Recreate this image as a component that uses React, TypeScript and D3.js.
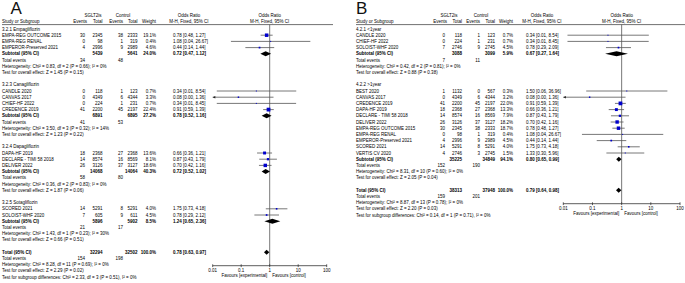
import React from "react";
import * as d3 from "d3";

// ---------------- Panel A data ----------------
const A_GROUP_NAMES = ["3.2.1 Empagliflozin", "3.2.3 Canagliflozin", "3.2.4 Dapagliflozin", "3.2.5 Sotagliflozin"];
const A_GROUP_OF = [0, 0, 0, 1, 1, 1, 1, 2, 2, 2, 3, 3];
const A_STUDY = ["EMPA-REG OUTCOME 2015", "EMPA-REG RENAL", "EMPEROR-Preserved 2021", "CANDLE 2020", "CANVAS 2017", "CHIEF-HF 2022", "CREDENCE 2019", "DAPA-HF 2019", "DECLARE - TIMI 58 2018", "DELIVER 2022", "SCORED 2021", "SOLOIST-WHF 2020"];
const A_EV1 = [30, 0, 4, 0, 0, 0, 41, 18, 14, 26, 14, 7];
const A_N1 = [2345, 98, 2996, 118, 4349, 224, 2200, 2368, 8574, 3126, 5291, 605];
const A_EV2 = [38, 1, 9, 1, 6, 1, 45, 27, 16, 37, 8, 9];
const A_N2 = [2333, 319, 2989, 123, 4344, 231, 2197, 2368, 8569, 3127, 5291, 611];
const A_WEIGHT = [19.1, 0.4, 4.6, 0.7, 3.3, 0.7, 22.4, 13.6, 8.1, 18.6, 4.0, 4.5];
const A_OR = [0.78, 1.08, 0.44, 0.34, 0.08, 0.34, 0.91, 0.66, 0.87, 0.70, 1.75, 0.78];
const A_LO = [0.48, 0.0436, 0.14, 0.0139, 0.0043, 0.0139, 0.59, 0.36, 0.43, 0.42, 0.73, 0.29];
const A_HI = [1.27, 26.67, 1.44, 8.54, 1.36, 8.45, 1.39, 1.21, 1.79, 1.16, 4.18, 2.12];
const A_SUB_N1 = [5439, 6891, 14068, 5896];
const A_SUB_N2 = [5641, 6895, 14064, 5902];
const A_SUB_EV1 = [34, 41, 58, 21];
const A_SUB_EV2 = [48, 53, 80, 17];
const A_SUB_WEIGHT = [24.0, 27.2, 40.3, 8.5];
const A_SUB_OR = [0.72, 0.78, 0.72, 1.24];
const A_SUB_LO = [0.47, 0.52, 0.52, 0.65];
const A_SUB_HI = [1.12, 1.16, 1.02, 2.36];
const A_SUB_HET = [
  "Chi² = 0.83, df = 2 (P = 0.66); I² = 0%",
  "Chi² = 3.50, df = 3 (P = 0.32); I² = 14%",
  "Chi² = 0.36, df = 2 (P = 0.83); I² = 0%",
  "Chi² = 1.43, df = 1 (P = 0.23); I² = 30%",
];
const A_SUB_Z = ["Z = 1.45 (P = 0.15)", "Z = 1.23 (P = 0.22)", "Z = 1.87 (P = 0.06)", "Z = 0.66 (P = 0.51)"];
const A_TOT_N = [32294, 32502];
const A_TOT_EV = [154, 198];
const A_TOT_CI = [0.78, 0.63, 0.97];
const A_TOT_HET = "Chi² = 8.28, df = 11 (P = 0.69); I² = 0%";
const A_TOT_Z = "Z = 2.29 (P = 0.02)";
const A_TOT_SUBDIFF = "Chi² = 2.33, df = 3 (P = 0.51), I² = 0%";

// ---------------- Panel B data ----------------
const B_GROUP_NAMES = ["4.2.1 <1year", "4.2.2 >1year"];
const B_GROUP_OF = [0, 0, 0, 1, 1, 1, 1, 1, 1, 1, 1, 1, 1, 1];
const B_STUDY = ["CANDLE 2020", "CHIEF-HF 2022", "SOLOIST-WHF 2020", "BEST 2020", "CANVAS 2017", "CREDENCE 2019", "DAPA-HF 2019", "DECLARE - TIMI 58 2018", "DELIVER 2022", "EMPA-REG OUTCOME 2015", "EMPA-REG RENAL", "EMPEROR-Preserved 2021", "SCORED 2021", "VERTIS CV 2020"];
const B_EV1 = [0, 0, 7, 1, 0, 41, 18, 14, 26, 30, 0, 4, 14, 4];
const B_N1 = [118, 224, 2746, 1132, 4349, 2200, 2368, 8574, 3126, 2345, 98, 2996, 5291, 2746];
const B_EV2 = [1, 1, 9, 0, 6, 45, 27, 16, 37, 38, 1, 9, 8, 3];
const B_N2 = [123, 231, 2745, 567, 4344, 2197, 2368, 8569, 3127, 2333, 319, 2989, 5291, 2745];
const B_WEIGHT = [0.7, 0.7, 4.5, 0.3, 3.2, 22.0, 13.3, 7.9, 18.2, 18.7, 0.4, 4.5, 4.0, 1.5];
const B_OR = [0.34, 0.34, 0.78, 1.50, 0.08, 0.91, 0.66, 0.87, 0.70, 0.78, 1.08, 0.44, 1.75, 1.33];
const B_LO = [0.0139, 0.0139, 0.29, 0.061, 0.0043, 0.59, 0.36, 0.43, 0.42, 0.48, 0.0436, 0.14, 0.73, 0.30];
const B_HI = [8.54, 8.45, 2.09, 36.96, 1.36, 1.39, 1.21, 1.79, 1.16, 1.27, 26.67, 1.44, 4.18, 5.96];
const B_SUB_N1 = [3088, 35225];
const B_SUB_N2 = [3099, 34849];
const B_SUB_EV1 = [7, 152];
const B_SUB_EV2 = [11, 190];
const B_SUB_WEIGHT = [5.9, 94.1];
const B_SUB_OR = [0.67, 0.80];
const B_SUB_LO = [0.27, 0.65];
const B_SUB_HI = [1.64, 0.99];
const B_SUB_HET = ["Chi² = 0.42, df = 2 (P = 0.81); I² = 0%", "Chi² = 8.31, df = 10 (P = 0.60); I² = 0%"];
const B_SUB_Z = ["Z = 0.88 (P = 0.38)", "Z = 2.05 (P = 0.04)"];
const B_TOT_N = [38313, 37948];
const B_TOT_EV = [159, 201];
const B_TOT_CI = [0.79, 0.64, 0.98];
const B_TOT_HET = "Chi² = 8.87, df = 13 (P = 0.78); I² = 0%";
const B_TOT_Z = "Z = 2.20 (P = 0.03)";
const B_TOT_SUBDIFF = "Chi² = 0.14, df = 1 (P = 0.71), I² = 0%";

const AXIS_TICKS = [0.01, 0.1, 1, 10, 100];

const PANEL_A = {
  letter: "A", groups: A_GROUP_NAMES, groupOf: A_GROUP_OF, study: A_STUDY,
  ev1: A_EV1, n1: A_N1, ev2: A_EV2, n2: A_N2, w: A_WEIGHT, or: A_OR, lo: A_LO, hi: A_HI,
  sN1: A_SUB_N1, sN2: A_SUB_N2, sEv1: A_SUB_EV1, sEv2: A_SUB_EV2, sW: A_SUB_WEIGHT,
  sOr: A_SUB_OR, sLo: A_SUB_LO, sHi: A_SUB_HI, sHet: A_SUB_HET, sZ: A_SUB_Z,
  tN: A_TOT_N, tEv: A_TOT_EV, tCi: A_TOT_CI, tHet: A_TOT_HET, tZ: A_TOT_Z, tSub: A_TOT_SUBDIFF,
};
const PANEL_B = {
  letter: "B", groups: B_GROUP_NAMES, groupOf: B_GROUP_OF, study: B_STUDY,
  ev1: B_EV1, n1: B_N1, ev2: B_EV2, n2: B_N2, w: B_WEIGHT, or: B_OR, lo: B_LO, hi: B_HI,
  sN1: B_SUB_N1, sN2: B_SUB_N2, sEv1: B_SUB_EV1, sEv2: B_SUB_EV2, sW: B_SUB_WEIGHT,
  sOr: B_SUB_OR, sLo: B_SUB_LO, sHi: B_SUB_HI, sHet: B_SUB_HET, sZ: B_SUB_Z,
  tN: B_TOT_N, tEv: B_TOT_EV, tCi: B_TOT_CI, tHet: B_TOT_HET, tZ: B_TOT_Z, tSub: B_TOT_SUBDIFF,
};

// layout (positions only)
const LAYOUT_A = {
  letterX: 10.5, nameX: 2, ev1: 85, n1: 102.5, ev2: 123, n2: 137.5, wt: 156, orX: 173,
  plotL: 212.7, plotR: 326.7, lineL: 2, lineR: 333, sgltC: 93, ctrlC: 123, orHeadC: 189, evPad: 2,
};
const LAYOUT_B = {
  letterX: 356, nameX: 356, ev1: 445, n1: 462, ev2: 480, n2: 495, wt: 513, orX: 526,
  plotL: 563.3, plotR: 680, lineL: 356, lineR: 685, sgltC: 449, ctrlC: 481, orHeadC: 542, evPad: 2,
};

const FONT = "'Liberation Sans', Arial, Helvetica, sans-serif";
const FS = 4.5;
const fmt2 = d3.format(".2f");
const fmtW = (v: number) => d3.format(".1f")(v) + "%";
const ciText = (o: number, l: number, h: number) => `${fmt2(o)} [${fmt2(l)}, ${fmt2(h)}]`;

type Row = { type: string; i?: number };

function buildRows(d: any): Row[] {
  const rows: Row[] = [];
  d.groups.forEach((_: string, g: number) => {
    rows.push({ type: "head", i: g });
    d.study.forEach((_s: string, k: number) => {
      if (d.groupOf[k] === g) rows.push({ type: "study", i: k });
    });
    rows.push({ type: "sub", i: g });
    rows.push({ type: "sev", i: g });
    rows.push({ type: "shet", i: g });
    rows.push({ type: "sz", i: g });
    rows.push({ type: "blank" });
  });
  rows.push({ type: "total" });
  rows.push({ type: "tev" });
  rows.push({ type: "thet" });
  rows.push({ type: "tz" });
  rows.push({ type: "tsub" });
  return rows;
}

function Panel({ d, L }: { d: any; L: any }) {
  const x = d3.scaleLog().domain([0.01, 100]).range([L.plotL, L.plotR]).clamp(true);
  const y = d3.scaleLinear().domain([0, 1]).range([29, 35.2]);
  const rows = buildRows(d);
  const totalIdx = rows.findIndex((r) => r.type === "total");
  const axisY = y(totalIdx) + 13.5;
  const x1 = x(1);
  const headY1 = 17.2;
  const headY2 = 23.2;
  const lineY = 24.6;

  const T = (props: any) => (
    <text fontFamily={FONT} fontSize={FS} fill="#000" {...props} />
  );

  const diamond = (o: number, l: number, h: number, cy: number) => {
    const hh = 2.5;
    return (
      <polygon
        points={`${x(l)},${cy} ${x(o)},${cy - hh} ${x(h)},${cy} ${x(o)},${cy + hh}`}
        fill="#000"
      />
    );
  };

  const els: any[] = [];
  rows.forEach((r, idx) => {
    const cy = y(idx);
    const by = cy + 1.6;
    const key = `r${idx}`;
    if (r.type === "head") {
      els.push(<T key={key} x={L.nameX} y={by}>{d.groups[r.i!]}</T>);
    } else if (r.type === "study") {
      const k = r.i!;
      const side = Math.max(1.0, Math.sqrt(d.w[k]) * 0.8);
      const xl = x(d.lo[k]);
      const xh = x(d.hi[k]);
      els.push(
        <g key={key}>
          <T x={L.nameX} y={by}>{d.study[k]}</T>
          <T x={L.ev1} y={by} textAnchor="end">{d.ev1[k]}</T>
          <T x={L.n1} y={by} textAnchor="end">{d.n1[k]}</T>
          <T x={L.ev2} y={by} textAnchor="end">{d.ev2[k]}</T>
          <T x={L.n2} y={by} textAnchor="end">{d.n2[k]}</T>
          <T x={L.wt} y={by} textAnchor="end">{fmtW(d.w[k])}</T>
          <T x={L.orX} y={by}>{ciText(d.or[k], d.lo[k], d.hi[k])}</T>
          <line x1={xl} x2={xh} y1={cy} y2={cy} stroke="#555" strokeWidth={0.8} />
          {d.lo[k] < 0.01 && (
            <polygon points={`${xl},${cy} ${xl + 2.6},${cy - 1.3} ${xl + 2.6},${cy + 1.3}`} fill="#222" />
          )}
          {d.hi[k] > 100 && (
            <polygon points={`${xh},${cy} ${xh - 2.6},${cy - 1.3} ${xh - 2.6},${cy + 1.3}`} fill="#222" />
          )}
          <rect x={x(d.or[k]) - side / 2} y={cy - side / 2} width={side} height={side} fill="#0000cc" />
        </g>
      );
    } else if (r.type === "sub") {
      const g = r.i!;
      els.push(
        <g key={key}>
          <T x={L.nameX} y={by} fontWeight="bold">Subtotal (95% CI)</T>
          <T x={L.n1} y={by} textAnchor="end" fontWeight="bold">{d.sN1[g]}</T>
          <T x={L.n2} y={by} textAnchor="end" fontWeight="bold">{d.sN2[g]}</T>
          <T x={L.wt} y={by} textAnchor="end" fontWeight="bold">{fmtW(d.sW[g])}</T>
          <T x={L.orX} y={by} fontWeight="bold">{ciText(d.sOr[g], d.sLo[g], d.sHi[g])}</T>
          {diamond(d.sOr[g], d.sLo[g], d.sHi[g], cy)}
        </g>
      );
    } else if (r.type === "sev") {
      const g = r.i!;
      els.push(
        <g key={key}>
          <T x={L.nameX} y={by}>Total events</T>
          <T x={L.ev1} y={by} textAnchor="end">{d.sEv1[g]}</T>
          <T x={L.ev2} y={by} textAnchor="end">{d.sEv2[g]}</T>
        </g>
      );
    } else if (r.type === "shet") {
      els.push(<T key={key} x={L.nameX} y={by}>{"Heterogeneity: " + d.sHet[r.i!]}</T>);
    } else if (r.type === "sz") {
      els.push(<T key={key} x={L.nameX} y={by}>{"Test for overall effect: " + d.sZ[r.i!]}</T>);
    } else if (r.type === "total") {
      els.push(
        <g key={key}>
          <T x={L.nameX} y={by} fontWeight="bold">Total (95% CI)</T>
          <T x={L.n1} y={by} textAnchor="end" fontWeight="bold">{d.tN[0]}</T>
          <T x={L.n2} y={by} textAnchor="end" fontWeight="bold">{d.tN[1]}</T>
          <T x={L.wt} y={by} textAnchor="end" fontWeight="bold">{fmtW(100)}</T>
          <T x={L.orX} y={by} fontWeight="bold">{ciText(d.tCi[0], d.tCi[1], d.tCi[2])}</T>
          {diamond(d.tCi[0], d.tCi[1], d.tCi[2], cy)}
        </g>
      );
    } else if (r.type === "tev") {
      els.push(
        <g key={key}>
          <T x={L.nameX} y={by}>Total events</T>
          <T x={L.ev1} y={by} textAnchor="end">{d.tEv[0]}</T>
          <T x={L.ev2} y={by} textAnchor="end">{d.tEv[1]}</T>
        </g>
      );
    } else if (r.type === "thet") {
      els.push(<T key={key} x={L.nameX} y={by}>{"Heterogeneity: " + d.tHet}</T>);
    } else if (r.type === "tz") {
      els.push(<T key={key} x={L.nameX} y={by}>{"Test for overall effect: " + d.tZ}</T>);
    } else if (r.type === "tsub") {
      els.push(<T key={key} x={L.nameX} y={by}>{"Test for subgroup differences: " + d.tSub}</T>);
    }
  });

  return (
    <g>
      <text x={L.letterX} y={14} fontFamily={FONT} fontSize={17} fill="#111">{d.letter}</text>
      <T x={L.sgltC} y={headY1} textAnchor="middle">SGLT2is</T>
      <T x={L.ctrlC} y={headY1} textAnchor="middle">Control</T>
      <T x={L.orHeadC} y={headY1} textAnchor="middle">Odds Ratio</T>
      <T x={x1} y={headY1} textAnchor="middle">Odds Ratio</T>
      <T x={L.nameX} y={headY2}>Study or Subgroup</T>
      <T x={L.ev1 + L.evPad} y={headY2} textAnchor="end">Events</T>
      <T x={L.n1} y={headY2} textAnchor="end">Total</T>
      <T x={L.ev2} y={headY2} textAnchor="end">Events</T>
      <T x={L.n2} y={headY2} textAnchor="end">Total</T>
      <T x={L.wt} y={headY2} textAnchor="end">Weight</T>
      <T x={L.orHeadC} y={headY2} textAnchor="middle">M-H, Fixed, 95% CI</T>
      <T x={x1} y={headY2} textAnchor="middle">M-H, Fixed, 95% CI</T>
      <line x1={L.lineL} x2={L.lineR} y1={lineY} y2={lineY} stroke="#333" strokeWidth={0.7} />
      <line x1={x1} x2={x1} y1={lineY} y2={axisY} stroke="#555" strokeWidth={0.8} />
      {els}
      <line x1={L.plotL} x2={L.plotR} y1={axisY} y2={axisY} stroke="#333" strokeWidth={0.8} />
      {AXIS_TICKS.map((t) => (
        <g key={t}>
          <line x1={x(t)} x2={x(t)} y1={axisY - 1.4} y2={axisY + 1.4} stroke="#333" strokeWidth={0.8} />
          <T x={x(t)} y={axisY + 6.5} textAnchor="middle">{String(t)}</T>
        </g>
      ))}
      <T x={x1 - 2.5} y={axisY + 11.5} textAnchor="end">Favours [experimental]</T>
      <T x={x1 + 2.5} y={axisY + 11.5}>Favours [control]</T>
    </g>
  );
}

export default function App() {
  return (
    <svg
      width={685}
      height={283}
      viewBox="0 0 685 283"
      style={{ position: "absolute", left: 0, top: 0, background: "#fff" }}
    >
      <rect x={0} y={0} width={685} height={283} fill="#fff" />
      <Panel d={PANEL_A} L={LAYOUT_A} />
      <Panel d={PANEL_B} L={LAYOUT_B} />
    </svg>
  );
}
